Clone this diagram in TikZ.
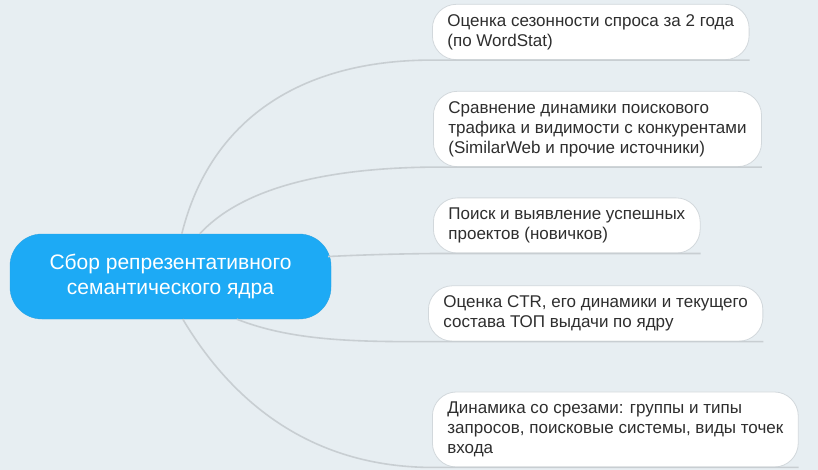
\documentclass[tikz,border=0pt]{standalone}
\usepackage{fontspec}
\setmainfont{Liberation Sans}
\usetikzlibrary{calc,positioning}
\definecolor{bg}{HTML}{E7EEF2}
\definecolor{hubblue}{HTML}{1DAAF5}
\definecolor{linkgray}{HTML}{C8CED2}
\definecolor{boxedge}{HTML}{D2D8DC}
\definecolor{textgray}{HTML}{2E2E2E}
\tikzset{
  hub/.style={fill=hubblue, draw=hubblue!85!gray, rounded corners=32pt,
    minimum width=321pt, minimum height=85pt, text=white, align=center,
    font=\fontsize{21}{25}\selectfont},
  topic/.style={fill=white, draw=boxedge, line width=0.8pt, rounded corners=24pt,
    anchor=west, align=left, inner xsep=15pt, inner ysep=10pt, text=textgray,
    font=\fontsize{17}{20}\selectfont},
  link/.style={draw=linkgray, line width=1.6pt}
}
\begin{document}
\begin{tikzpicture}[x=1pt, y=-1pt]
    \useasboundingbox[fill=bg] (0,0) rectangle (818,470);

    % central node
    \node [hub] (core) at (170.5,276.5) {Сбор репрезентативного\\семантического ядра};

    % branches
    \node [topic] (season) at (432,32) {Оценка сезонности спроса за 2 года\\(по WordStat)};
    \node [topic] (rivals) at (433,129) {Сравнение динамики поискового\\трафика и видимости с конкурентами\\(SimilarWeb и прочие источники)};
    \node [topic] (newbies) at (433,225.5) {Поиск и выявление успешных\\проектов (новичков)};
    \node [topic] (ctr) at (428,313.5) {Оценка CTR, его динамики и текущего\\состава ТОП выдачи по ядру};
    \node [topic] (slices) at (432,429.5) {Динамика со срезами: группы и типы\\запросов, поисковые системы, виды точек\\входа};

    % connectors
    \draw [link] ($(core.north west)+(172,0)$) .. controls (210,120) and (300,60) .. (season.south west) -- (season.south east);
    \draw [link] ($(core.north west)+(190,0)$) .. controls (240,190) and (320,168) .. (rivals.south west) -- (rivals.south east);
    \draw [link] ($(core.east)+(-3,-20)$) .. controls (360,255) and (390,254) .. (newbies.south west) -- (newbies.south east);
    \draw [link] ($(core.south west)+(227,0)$) .. controls (290,340) and (350,342) .. (ctr.south west) -- (ctr.south east);
    \draw [link] ($(core.south west)+(173,0)$) .. controls (225,390) and (300,467) .. (slices.south west) -- (slices.south east);
\end{tikzpicture}
\end{document}
